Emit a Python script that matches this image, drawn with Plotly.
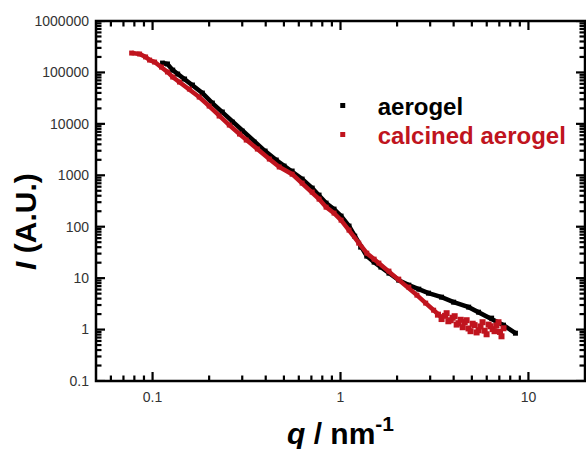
import plotly.graph_objects as go
import math

# ---- data ----
aerogel_q = [0.113, 0.120, 0.128, 0.136, 0.148, 0.163, 0.184, 0.208, 0.235, 0.266,
             0.300, 0.347, 0.397, 0.455, 0.501, 0.553, 0.625, 0.707, 0.769, 0.838,
             0.924, 1.007, 1.11, 1.19, 1.28, 1.38, 1.51, 1.64, 1.81, 2.04,
             2.31, 2.61, 2.94, 3.45, 4.00, 4.81, 5.43, 6.37, 7.37, 8.53]
aerogel_I = [152000, 146000, 111000, 93000, 74500, 56900, 39700, 25400, 17000, 10800,
             7240, 4430, 2960, 1980, 1510, 1210, 844, 564, 412, 288,
             220, 161, 103, 65.6, 40.1, 26.8, 20.5, 16.4, 12.5, 9.14,
             7.31, 6.11, 5.11, 4.27, 3.41, 2.73, 2.18, 1.67, 1.22, 0.85]

calcined_q = [0.0774, 0.0853, 0.0918, 0.0964, 0.1025, 0.1116, 0.120, 0.128, 0.139, 0.157,
              0.177, 0.200, 0.226, 0.256, 0.290, 0.315, 0.361, 0.418, 0.472, 0.553,
              0.625, 0.707, 0.769, 0.838, 0.924, 1.007, 1.11, 1.25, 1.38, 1.51,
              1.60, 1.81, 2.04, 2.31, 2.55, 2.84, 3.13, 3.45]
calcined_I = [238000, 228000, 200000, 174000, 159000, 127000, 102000, 81400, 65000, 47500,
              33200, 22200, 14200, 9480, 6340, 4840, 3240, 2070, 1450, 1050,
              705, 471, 344, 240, 184, 134, 85.9, 48.0, 30.6, 23.4,
              19.6, 13.7, 9.57, 6.68, 4.67, 3.27, 2.38, 1.74]

calcined_noisy_q = [3.30, 3.45, 3.60, 3.67, 3.75, 3.86, 3.95, 4.05, 4.15, 4.25, 4.36,
                    4.47, 4.58, 4.69, 4.80, 4.92, 5.05, 5.17, 5.30, 5.43, 5.56, 5.70,
                    5.85, 5.99, 6.14, 6.29, 6.45, 6.60, 6.76, 6.93, 7.06, 7.19, 7.37]
calcined_noisy_I = [1.95, 1.60, 1.85, 2.08, 1.45, 1.52, 1.70, 1.82, 1.25, 1.33, 1.55,
                    1.11, 1.40, 1.52, 1.05, 0.93, 1.30, 1.22, 0.88, 0.97, 1.15, 1.39,
                    0.95, 0.81, 1.25, 1.16, 1.02, 0.93, 1.20, 1.39, 0.90, 0.74, 1.06]

x_tick_vals = [0.1, 1, 10]
x_tick_text = ["0.1", "1", "10"]
y_tick_vals = [0.1, 1, 10, 100, 1000, 10000, 100000, 1000000]
y_tick_text = ["0.1", "1", "10", "100", "1000", "10000", "100000", "1000000"]

BLACK = "#000000"
RED = "#c0141e"
FONT = "Liberation Sans, Arial, sans-serif"
CLEAR = "rgba(0,0,0,0)"

W, H = 586, 449
M_L, M_R, M_T, M_B = 96, 1, 21, 68
X_MIN, X_MAX = 0.05, 20
Y_MIN, Y_MAX = 0.1, 1000000
X_RANGE = [math.log10(X_MIN), math.log10(X_MAX)]
Y_RANGE = [math.log10(Y_MIN), math.log10(Y_MAX)]

fig = go.Figure()

fig.add_trace(go.Scatter(
    x=aerogel_q, y=aerogel_I, mode="lines+markers",
    line=dict(color=BLACK, width=4.5),
    marker=dict(symbol="square", size=5, color=BLACK),
    showlegend=False))
fig.add_trace(go.Scatter(
    x=calcined_q, y=calcined_I, mode="lines+markers",
    line=dict(color=RED, width=4.5),
    marker=dict(symbol="square", size=5, color=RED),
    showlegend=False))
fig.add_trace(go.Scatter(
    x=calcined_noisy_q, y=calcined_noisy_I, mode="markers",
    marker=dict(symbol="square", size=6, color=RED),
    showlegend=False))

# legend entries (marker only), each in its own legend for exact placement
fig.add_trace(go.Scatter(
    x=[None], y=[None], mode="markers",
    marker=dict(symbol="square", size=5, color=BLACK),
    name="<b>aerogel</b>", legend="legend"))
fig.add_trace(go.Scatter(
    x=[None], y=[None], mode="markers",
    marker=dict(symbol="square", size=5, color=RED),
    name="<b><span style='color:%s'>calcined aerogel</span></b>" % RED, legend="legend2"))

minor_x = [m * 10 ** e for e in (-2, -1, 0, 1) for m in range(2, 10)
           if X_MIN < m * 10 ** e < X_MAX]
minor_y = [m * 10 ** e for e in range(-1, 6) for m in range(2, 10)]

# inside tick marks on all four sides, drawn as one line trace on the axes' scales;
# tick length in pixels converted to decades of each log axis
px_per_dec_x = (W - M_L - M_R) / (X_RANGE[1] - X_RANGE[0])
px_per_dec_y = (H - M_T - M_B) / (Y_RANGE[1] - Y_RANGE[0])
MAJOR_LEN, MINOR_LEN = 9, 5.5
tx, ty = [], []
for vals, ln in ((x_tick_vals, MAJOR_LEN), (minor_x, MINOR_LEN)):
    f = 10 ** (ln / px_per_dec_y)
    for v in vals:
        tx += [v, v, None, v, v, None]
        ty += [Y_MIN, Y_MIN * f, None, Y_MAX, Y_MAX / f, None]
for vals, ln in ((y_tick_vals, MAJOR_LEN), (minor_y, MINOR_LEN)):
    f = 10 ** (ln / px_per_dec_x)
    for v in vals:
        tx += [X_MIN, X_MIN * f, None, X_MAX, X_MAX / f, None]
        ty += [v, v, None, v, v, None]
fig.add_trace(go.Scatter(x=tx, y=ty, mode="lines", line=dict(color="black", width=2.2),
                         connectgaps=False, showlegend=False, hoverinfo="skip",
                         cliponaxis=False))

axis_common = dict(
    type="log", showline=False, ticks="", showgrid=False, zeroline=False,
    tickfont=dict(family=FONT, size=14, color="#333333"),
)
fig.update_layout(
    xaxis=dict(**axis_common, range=X_RANGE, tickmode="array",
               tickvals=x_tick_vals, ticktext=x_tick_text, ticklabelstandoff=6),
    yaxis=dict(**axis_common, range=Y_RANGE, tickmode="array",
               tickvals=y_tick_vals, ticktext=y_tick_text, ticklabelstandoff=6),
)

# frame
fig.add_shape(type="rect", xref="paper", yref="paper", x0=0, x1=1, y0=0, y1=1,
              line=dict(color="black", width=2.5), fillcolor=CLEAR, opacity=1,
              layer="above")

fig.add_annotation(
    text="<b><i>I</i> (A.U.)</b>", xref="paper", yref="paper",
    x=-0.143, y=0.442, xanchor="center", yanchor="middle", textangle=-90,
    showarrow=False, font=dict(family=FONT, size=30, color="black"))
fig.add_annotation(
    text="<b><i>q</i> / nm<sup>-1</sup></b>", xref="paper", yref="paper",
    x=0.5, y=-0.08, xanchor="center", yanchor="top",
    showarrow=False, font=dict(family=FONT, size=30, color="black"))

legend_style = dict(xanchor="left", yanchor="top", bgcolor=CLEAR,
                    itemwidth=60, font=dict(family=FONT, size=24, color="black"))

fig.update_layout(
    template="simple_white",
    width=W, height=H,
    margin=dict(l=M_L, r=M_R, t=M_T, b=M_B),
    paper_bgcolor="white", plot_bgcolor="white",
    legend=dict(x=0.433, y=0.827, **legend_style),
    legend2=dict(x=0.433, y=0.746, **legend_style),
)

fig.write_html("out.html")
